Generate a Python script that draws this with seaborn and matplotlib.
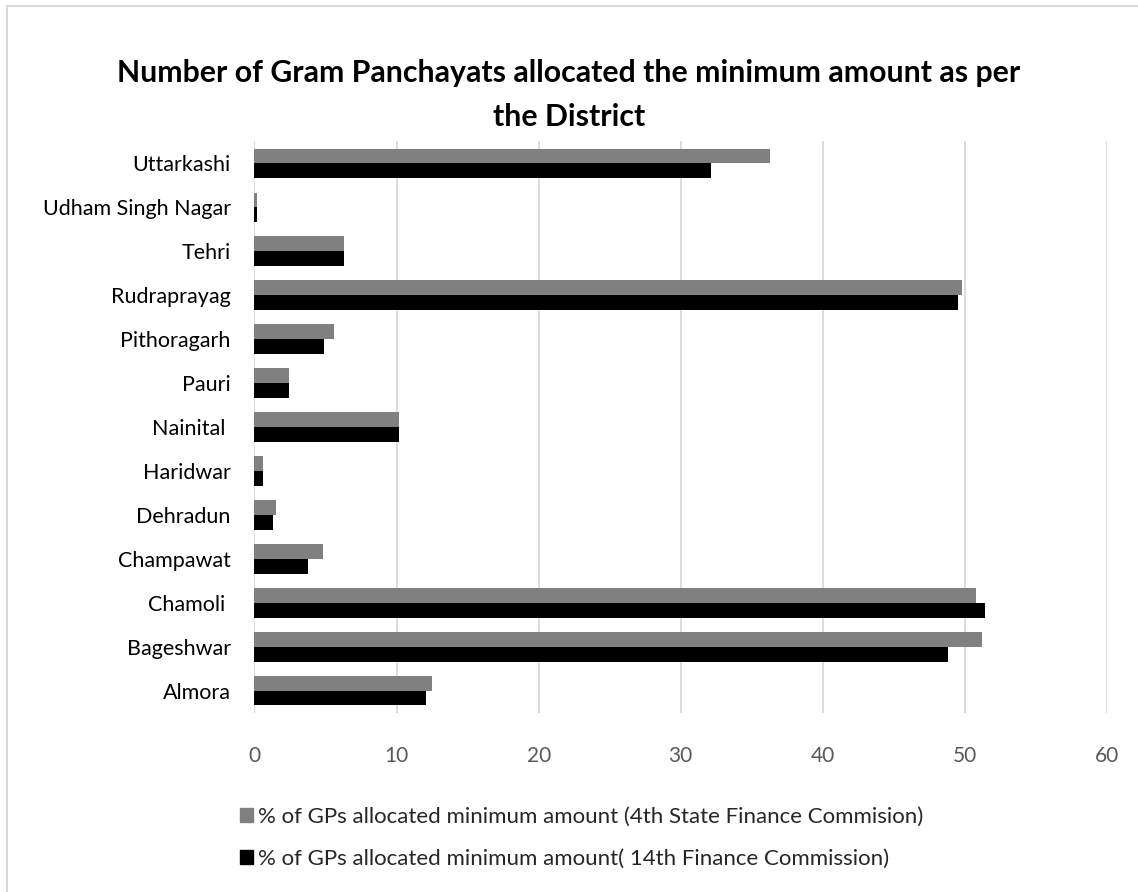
import matplotlib
matplotlib.use("Agg")
import matplotlib.pyplot as plt
import matplotlib.patches as mpatches
import seaborn as sns
import pandas as pd

districts = ["Uttarkashi", "Udham Singh Nagar", "Tehri", "Rudraprayag", "Pithoragarh",
             "Pauri", "Nainital ", "Haridwar", "Dehradun", "Champawat", "Chamoli ",
             "Bageshwar", "Almora"]
sfc4 = [36.3, 0.2, 6.3, 49.8, 5.6, 2.4, 10.2, 0.6, 1.5, 4.8, 50.8, 51.2, 12.5]
fc14 = [32.1, 0.2, 6.3, 49.5, 4.9, 2.4, 10.2, 0.6, 1.3, 3.8, 51.4, 48.8, 12.1]
series = ["% of GPs allocated minimum amount (4th State Finance Commision)",
          "% of GPs allocated minimum amount( 14th Finance Commission)"]
colors = ["#808080", "#000000"]
title = "Number of Gram Panchayats allocated the minimum amount as per\nthe District"

df = pd.DataFrame({
    "district": districts * 2,
    "value": sfc4 + fc14,
    "series": [series[0]] * len(districts) + [series[1]] * len(districts),
})

sns.set_theme(style="white")
plt.rcParams["font.family"] = ["Lato", "DejaVu Sans"]

fig = plt.figure(figsize=(11.38, 8.92), dpi=100)
ax = fig.add_axes([0.2236, 0.2007, 0.7492, 0.6412])

sns.barplot(data=df, x="value", y="district", hue="series", hue_order=series,
            palette=colors, orient="h", width=0.66, gap=0, saturation=1,
            order=districts, ax=ax, legend=False, linewidth=0)

ax.set_xlim(0, 60)
ax.set_xticks(range(0, 61, 10))
ax.set_xlabel("")
ax.set_ylabel("")
ax.grid(axis="x", color="#d9d9d9", linewidth=1.3)
ax.grid(axis="y", visible=False)
ax.set_axisbelow(True)
for s in ax.spines.values():
    s.set_visible(False)
ax.tick_params(axis="x", length=0, pad=24, labelsize=15, labelcolor="#595959")
ax.tick_params(axis="y", length=0, pad=17, labelsize=15.5, labelcolor="#000000")

fig.text(0.5, 0.893, title, ha="center", va="center", fontsize=21.8,
         fontweight="bold", color="#000000", linespacing=1.7)

handles = [mpatches.Patch(color=c, label=l) for c, l in zip(colors, series)]
fig.legend(handles=handles, loc="center", bbox_to_anchor=(0.511, 0.0605), ncol=1,
           frameon=False, fontsize=16, handlelength=0.6, handleheight=0.6,
           handletextpad=0.2, labelspacing=1.0, borderaxespad=0)

# chart border
fig.add_artist(mpatches.Rectangle((7 / 1138, -0.05), 1.1, 1 - 6 / 892 + 0.05,
                                  transform=fig.transFigure, fill=False,
                                  edgecolor="#d9d9d9", linewidth=1.5))

fig.savefig("out.png", dpi=100, facecolor="white")
